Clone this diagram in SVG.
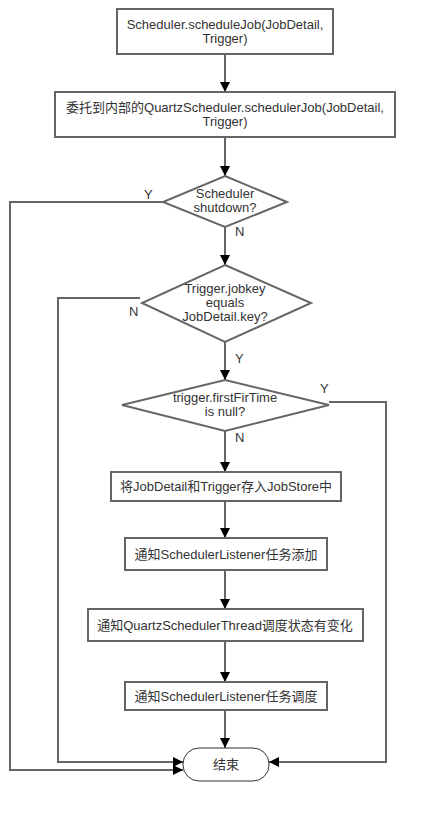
<svg xmlns="http://www.w3.org/2000/svg" width="433" height="821" viewBox="0 0 433 821">
<defs>
<marker id="ah" viewBox="0 0 10 10" refX="10" refY="5" markerWidth="10" markerHeight="10" markerUnits="userSpaceOnUse" orient="auto">
<path d="M0,0 L10,5 L0,10 z" fill="#000"/>
</marker>
</defs>
<style>
.box{fill:#fff;stroke:#666;stroke-width:2}
.end{fill:#fff;stroke:#333;stroke-width:1}
.t{font-family:"Liberation Sans",Arial,"Noto Sans CJK SC",sans-serif;font-size:13px;fill:#333;text-anchor:middle}
.l{font-family:"Liberation Sans",Arial,sans-serif;font-size:13px;fill:#333}
.c{fill:none;stroke:#666;stroke-width:2;marker-end:url(#ah)}
</style>
<rect width="433" height="821" fill="#fff"/>
<g id="connectors">
<path class="c" d="M225,54 V92"/>
<path class="c" d="M225,137 V176"/>
<path class="c" d="M225,227 V265"/>
<path class="c" d="M225,342 V380"/>
<path class="c" d="M225,431 V472"/>
<path class="c" d="M225,501 V538"/>
<path class="c" d="M225,570 V609"/>
<path class="c" d="M225,641 V682"/>
<path class="c" d="M225,710 V748"/>
<path class="c" d="M163,202 H10 V770 H183"/>
<path class="c" d="M140,298 H58 V762 H183"/>
<path class="c" d="M329,402 H386 V762 H269"/>
<text class="l" x="144" y="199">Y</text>
<text class="l" x="235" y="236">N</text>
<text class="l" x="129" y="316">N</text>
<text class="l" x="235" y="363">Y</text>
<text class="l" x="320" y="393">Y</text>
<text class="l" x="235" y="442">N</text>
</g>
<g id="n1">
<rect class="box" x="117" y="9" width="216" height="45"/>
<text class="t" x="225" y="29">Scheduler.scheduleJob(JobDetail,</text>
<text class="t" x="225" y="43">Trigger)</text>
</g>
<g id="n2">
<rect class="box" x="55" y="92" width="340" height="45"/>
<text class="t" x="225" y="112">委托到内部的QuartzScheduler.schedulerJob(JobDetail,</text>
<text class="t" x="225" y="126">Trigger)</text>
</g>
<g id="d1">
<polygon class="box" points="225,176 287,202 225,227 163,202"/>
<text class="t" x="225" y="198">Scheduler</text>
<text class="t" x="225" y="212">shutdown?</text>
</g>
<g id="d2">
<polygon class="box" points="225,265 311,303 225,342 142,303"/>
<text class="t" x="225" y="293">Trigger.jobkey</text>
<text class="t" x="225" y="307">equals</text>
<text class="t" x="225" y="321">JobDetail.key?</text>
</g>
<g id="d3">
<polygon class="box" points="225,380 329,405 225,431 122,405"/>
<text class="t" x="225" y="402">trigger.firstFirTime</text>
<text class="t" x="225" y="416">is null?</text>
</g>
<g id="n3">
<rect class="box" x="111" y="472" width="230" height="29"/>
<text class="t" x="226" y="491">将JobDetail和Trigger存入JobStore中</text>
</g>
<g id="n4">
<rect class="box" x="125" y="538" width="202" height="32"/>
<text class="t" x="226" y="559">通知SchedulerListener任务添加</text>
</g>
<g id="n5">
<rect class="box" x="88" y="609" width="275" height="32"/>
<text class="t" x="225" y="630">通知QuartzSchedulerThread调度状态有变化</text>
</g>
<g id="n6">
<rect class="box" x="125" y="682" width="202" height="28"/>
<text class="t" x="226" y="701">通知SchedulerListener任务调度</text>
</g>
<g id="end">
<rect class="end" x="183" y="748" width="86" height="33" rx="16" ry="16"/>
<text class="t" x="226" y="769">结束</text>
</g>
</svg>
